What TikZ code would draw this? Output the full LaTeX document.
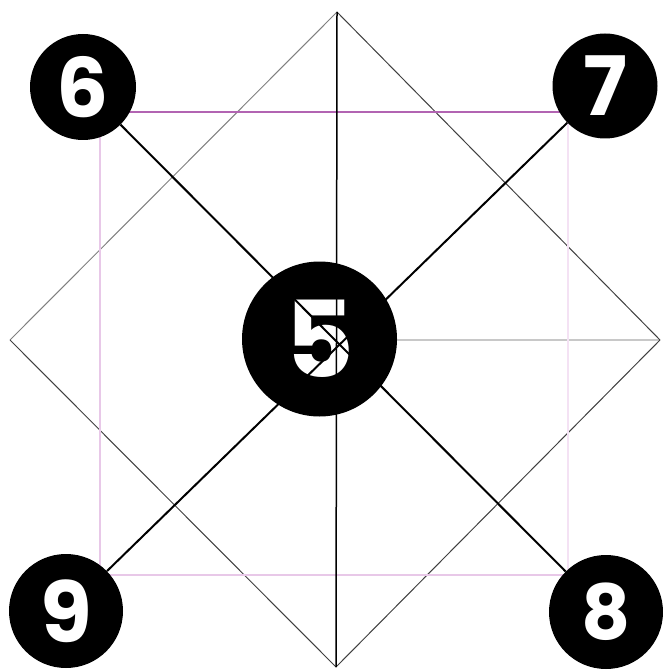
\documentclass[tikz,border=0pt]{standalone}
\usepackage{fontspec}
\newfontfamily\digitfont{Poppins}
\begin{document}
\begin{tikzpicture}[x=1pt,y=-1pt,
  numcircle/.style={circle,fill=black,inner sep=0pt,text=white,font=\digitfont\bfseries},
  diamondedge/.style={line width=1pt,draw=black!75},
  diamondlight/.style={line width=1pt,draw=black!50},
  spoke/.style={line width=2pt,draw=black},
  axis/.style={line width=1.5pt,draw=black},
  sqtop/.style={line width=2pt,draw={rgb,255:red,178;green,100;blue,178}},
  sqside/.style={line width=2pt,draw={rgb,255:red,232;green,200;blue,232}},
  sqfaint/.style={line width=2pt,draw={rgb,255:red,244;green,226;blue,244}},
  grayline/.style={line width=1.5pt,draw={rgb,255:red,200;green,200;blue,200}}]
\useasboundingbox (0,0) rectangle (662,671);
% diamond vertices
\coordinate (T) at (337,12);
\coordinate (R) at (660,340);
\coordinate (B) at (336,667);
\coordinate (L) at (10,340);
% square corners
\coordinate (S1) at (100,112);
\coordinate (S2) at (568,112);
\coordinate (S3) at (568,575);
\coordinate (S4) at (100,575);
\coordinate (C) at (337,340);
% background lines
\draw[grayline] (C) -- (R);
\draw[diamondlight] (L) -- (T);
\draw[diamondedge] (T) -- (R);
\draw[diamondedge] (R) -- (B);
\draw[diamondedge] (B) -- (L);
\draw[sqtop] (S1) -- (S2);
\draw[sqfaint] (S2) -- (S3);
\draw[sqside] (S3) -- (S4);
\draw[sqside] (S4) -- (S1);
% nodes
\node[numcircle,minimum size=106pt,font=\digitfont\bfseries\fontsize{82}{82}\selectfont] (n6) at (83,87) {6};
\node[numcircle,minimum size=105pt,font=\digitfont\bfseries\fontsize{82}{82}\selectfont] (n7) at (605,86) {7};
\node[numcircle,minimum size=114pt,font=\digitfont\bfseries\fontsize{84}{84}\selectfont] (n9) at (66,611) {9};
\node[numcircle,minimum size=114pt,font=\digitfont\bfseries\fontsize{76}{76}\selectfont] (n8) at (606,612) {8};
\node[numcircle,minimum size=155pt,font=\digitfont\bfseries\fontsize{106}{106}\selectfont] (n5) at (319.5,339) {5};
% foreground lines
\draw[axis] (T) -- (B);
\draw[spoke] (n6) -- (n8);
\draw[spoke] (n7) -- (n9);
\end{tikzpicture}
\end{document}
